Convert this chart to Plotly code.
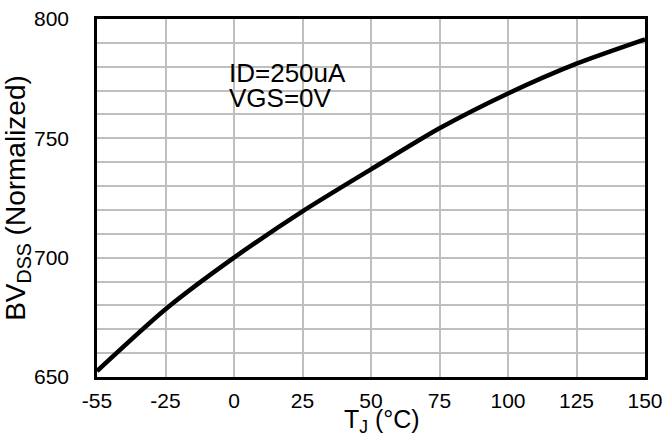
import plotly.graph_objects as go

# Data
temps = ["-55", "-25", "0", "25", "50", "75", "100", "125", "150"]
bvdss = [652.5, 678.4, 700.0, 719.4, 737.0, 754.2, 768.8, 781.3, 791.5]

y_ticks = [650, 700, 750, 800]
note_lines = ["ID=250uA", "VGS=0V"]
x_title = "T<sub>J</sub> (°C)"
y_title = "BV<sub>DSS</sub> (Normalized)"

FONT = "Liberation Sans, Arial, sans-serif"

fig = go.Figure()
fig.add_trace(go.Scatter(
    x=temps, y=bvdss, mode="lines",
    line=dict(color="black", width=4.5, shape="spline", smoothing=0.7),
    showlegend=False, hoverinfo="skip",
))

fig.update_layout(
    width=663, height=436,
    margin=dict(l=97, r=18, t=19, b=59, autoexpand=False),
    paper_bgcolor="white", plot_bgcolor="white",
    font=dict(family=FONT, color="black", size=21),
    xaxis=dict(
        type="category", categoryorder="array", categoryarray=temps,
        range=[0, len(temps) - 1], automargin=False,
        showgrid=True, gridcolor="#bfbfbf", gridwidth=2,
        showline=True, linecolor="black", linewidth=2.5, mirror=True,
        ticks="", tickfont=dict(size=21), ticklabelstandoff=3,
        zeroline=False,
    ),
    yaxis=dict(
        range=[650, 800], tickvals=y_ticks, automargin=False,
        showgrid=True, gridcolor="#bfbfbf", gridwidth=2,
        minor=dict(dtick=10, showgrid=True, gridcolor="#bfbfbf", gridwidth=2),
        showline=True, linecolor="black", linewidth=2.5, mirror=True,
        ticks="", tickfont=dict(size=21), ticklabelstandoff=21,
        title=dict(text=y_title, font=dict(size=28), standoff=0),
        zeroline=False,
    ),
)

# x-axis title (placed slightly right of centre as in the reference)
fig.add_annotation(
    text=x_title, xref="paper", yref="paper", x=0.52, y=-0.073,
    xanchor="center", yanchor="top", showarrow=False,
    font=dict(size=25, family=FONT, color="black"),
)

ys = [0.848, 0.780]
for txt, yy in zip(note_lines, ys):
    fig.add_annotation(
        text=txt, xref="paper", yref="paper", x=0.2375, y=yy,
        xanchor="left", yanchor="middle", showarrow=False,
        font=dict(size=26, family=FONT, color="black"),
    )

fig.write_html("out.html", config={"displayModeBar": False},
               post_script="document.body.style.margin='0';")
